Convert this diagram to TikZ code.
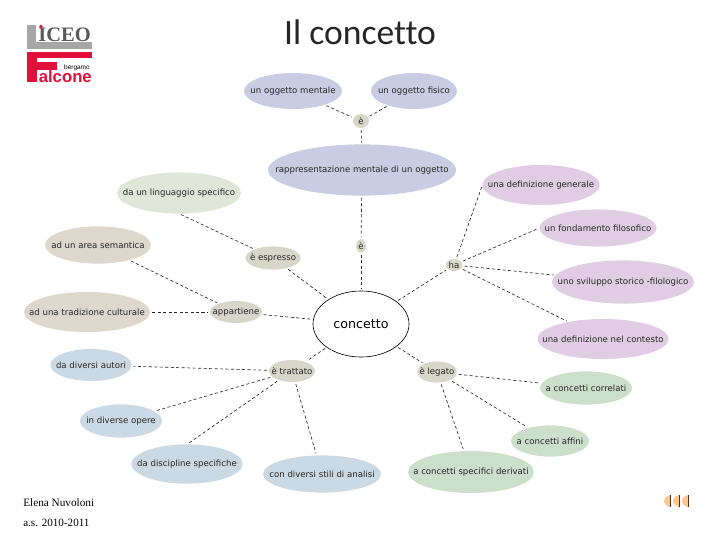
\documentclass[tikz,border=0pt]{standalone}
\usepackage{fontspec}
\setmainfont{DejaVu Sans}
\newfontfamily\titlefont[Ligatures=NoCommon]{Carlito}
\newfontfamily\notefont{Liberation Serif}
\newfontfamily\logofont{Liberation Sans}
\usepackage{xcolor}
\usetikzlibrary{shapes.geometric}
\definecolor{lavblue}{HTML}{C9CCE2}
\definecolor{sage}{HTML}{E0E6D8}
\definecolor{taupe}{HTML}{DDD7CC}
\definecolor{linkgrey}{HTML}{D6D7C9}
\definecolor{mauve}{HTML}{E0CDE3}
\definecolor{steel}{HTML}{CBD9E4}
\definecolor{leaf}{HTML}{CCDFCB}
\definecolor{logored}{HTML}{E0103A}
\definecolor{logogrey}{HTML}{A6A6A6}
\newcommand{\zw}[1]{\makebox[0pt]{#1}}

\begin{document}
\begin{tikzpicture}[
  x=0.025cm, y=-0.025cm,
  font=\fontsize{6.1pt}{7pt}\selectfont,
  bub/.style={ellipse, inner sep=0pt, outer sep=0pt, text=black!85},
  sky/.style={bub, fill=lavblue},
  grass/.style={bub, fill=sage},
  sand/.style={bub, fill=taupe},
  link/.style={bub, fill=linkgrey},
  lilac/.style={bub, fill=mauve},
  ice/.style={bub, fill=steel},
  moss/.style={bub, fill=leaf},
  conn/.style={line width=0.45pt, dash pattern=on 2.2pt off 1.7pt, black!85, shorten >=1.5pt, shorten <=1.5pt},
  navtip/.style={fill=#1, draw=none},
]
\useasboundingbox (0,0) rectangle (720,540);

\node[font=\titlefont\fontsize{25.3pt}{27pt}\selectfont, text=black!85] (title) at (360,32) {Il concetto};

\fill[logogrey] (27,25) rectangle (36,49);
\fill[logogrey] (27,42) rectangle (92,49);
\node[font=\notefont\bfseries\fontsize{14.6pt}{15pt}\selectfont, text=black!65, inner sep=0pt, anchor=base west] (iceo) at (38,41) {ICEO};
\fill[logored] (41,26.5) circle (1.8);
\fill[logored] (27,52) rectangle (92,58);
\fill[logored] (27,52) rectangle (37,82);
\fill[logored] (27,62) rectangle (57,70);
\node[font=\logofont\bfseries\fontsize{11.9pt}{12pt}\selectfont, text=logored, inner sep=0pt, anchor=base west] (alcone) at (38.5,82) {alcone};
\node[font=\logofont\fontsize{4.6pt}{5pt}\selectfont, inner sep=0pt, anchor=base east] (bergamo) at (90,69) {bergamo};

\node[sky, minimum width=2.45cm, minimum height=0.9cm] (mentale) at (293,91) {\zw{un oggetto mentale}};
\node[sky, minimum width=2.15cm, minimum height=0.9cm] (fisico) at (414,91) {\zw{un oggetto fisico}};
\node[link, minimum width=0.4cm, minimum height=0.35cm] (e1) at (361,121) {\zw{è}};
\node[sky, minimum width=4.7cm, minimum height=1.28cm] (rappr) at (362,170) {\zw{rappresentazione mentale di un oggetto}};
\node[link, minimum width=0.25cm, minimum height=0.33cm] (e2) at (361,246) {\zw{è}};
\node[draw=black, line width=0.45pt, fill=white, ellipse, inner sep=0pt, outer sep=0pt, minimum width=2.4cm, minimum height=1.65cm, font=\fontsize{9pt}{10pt}\selectfont] (concetto) at (361,324) {\zw{concetto}};

\node[grass, minimum width=3.1cm, minimum height=1.03cm] (linguaggio) at (179,193) {\zw{da un linguaggio specifico}};
\node[sand, minimum width=2.65cm, minimum height=0.93cm] (semantica) at (98,245) {\zw{ad un area semantica}};
\node[sand, minimum width=3.15cm, minimum height=1cm] (tradizione) at (87,312) {\zw{ad una tradizione culturale}};
\node[link, minimum width=1.38cm, minimum height=0.58cm] (espresso) at (273,258) {\zw{è espresso}};
\node[link, minimum width=1.3cm, minimum height=0.55cm] (appartiene) at (236,312) {\zw{appartiene}};

\node[ice, minimum width=2.03cm, minimum height=0.8cm] (autori) at (91,365) {\zw{da diversi autori}};
\node[ice, minimum width=2.05cm, minimum height=0.83cm] (opere) at (121,421) {\zw{in diverse opere}};
\node[ice, minimum width=2.78cm, minimum height=0.98cm] (discipline) at (187,464) {\zw{da discipline specifiche}};
\node[ice, minimum width=2.95cm, minimum height=0.93cm] (stili) at (322,474) {\zw{con diversi stili di analisi}};
\node[link, minimum width=1.15cm, minimum height=0.55cm] (trattato) at (292,371) {\zw{è trattato}};

\node[link, minimum width=1cm, minimum height=0.53cm] (legato) at (437,372) {\zw{è legato}};
\node[moss, minimum width=2.3cm, minimum height=0.83cm] (correlati) at (586,388) {\zw{a concetti correlati}};
\node[moss, minimum width=1.95cm, minimum height=0.78cm] (affini) at (550,441) {\zw{a concetti affini}};
\node[moss, minimum width=3.15cm, minimum height=1.05cm] (derivati) at (471,472) {\zw{a concetti specifici derivati}};

\node[link, minimum width=0.42cm, minimum height=0.3cm] (ha) at (454,265) {\zw{ha}};
\node[lilac, minimum width=2.93cm, minimum height=1cm] (generale) at (541,185) {\zw{una definizione generale}};
\node[lilac, minimum width=2.93cm, minimum height=0.93cm] (filosofico) at (598,228) {\zw{un fondamento filosofico}};
\node[lilac, minimum width=3.55cm, minimum height=1.08cm] (sviluppo) at (623,282) {\zw{uno sviluppo storico -filologico}};
\node[lilac, minimum width=3.28cm, minimum height=1cm] (contesto) at (603,339) {\zw{una definizione nel contesto}};

\draw[conn] (mentale) -- (e1);
\draw[conn] (fisico) -- (e1);
\draw[conn] (e1) -- (rappr);
\draw[conn] (rappr) -- (e2);
\draw[conn] (e2) -- (concetto);
\draw[conn] (linguaggio.south) -- (espresso);
\draw[conn] (espresso) -- (concetto);
\draw[conn] (semantica) -- (appartiene);
\draw[conn] (tradizione) -- (appartiene);
\draw[conn] (appartiene) -- (concetto);
\draw[conn] (concetto) -- (trattato);
\draw[conn] (trattato) -- (autori);
\draw[conn] (trattato) -- (opere);
\draw[conn] (trattato) -- (discipline.north);
\draw[conn] (trattato) -- (stili);
\draw[conn] (concetto) -- (legato);
\draw[conn] (legato) -- (correlati);
\draw[conn] (legato) -- (affini);
\draw[conn] (legato) -- (derivati);
\draw[conn] (concetto) -- (ha);
\draw[conn] (ha) -- (generale.west);
\draw[conn] (ha) -- (filosofico.west);
\draw[conn] (ha) -- (sviluppo);
\draw[conn] (ha) -- (contesto);

\node[font=\notefont\fontsize{8pt}{9pt}\selectfont, anchor=base west, inner sep=0pt] (autrice) at (23,506) {Elena Nuvoloni};
\node[font=\notefont\fontsize{7.9pt}{9pt}\selectfont, anchor=base west, inner sep=0pt] (anno) at (23,526) {a.s. 2010-2011};

\foreach \nx in {664,673,682} {
  \fill[black!75!brown] (\nx+6,495) rectangle (\nx+7,507);
  \fill[navtip={orange!45}] (\nx+6,495) .. controls (\nx+2,496) and (\nx,499) .. (\nx,501) .. controls (\nx,503) and (\nx+2,506) .. (\nx+6,507) -- cycle;
}
\end{tikzpicture}
\end{document}
